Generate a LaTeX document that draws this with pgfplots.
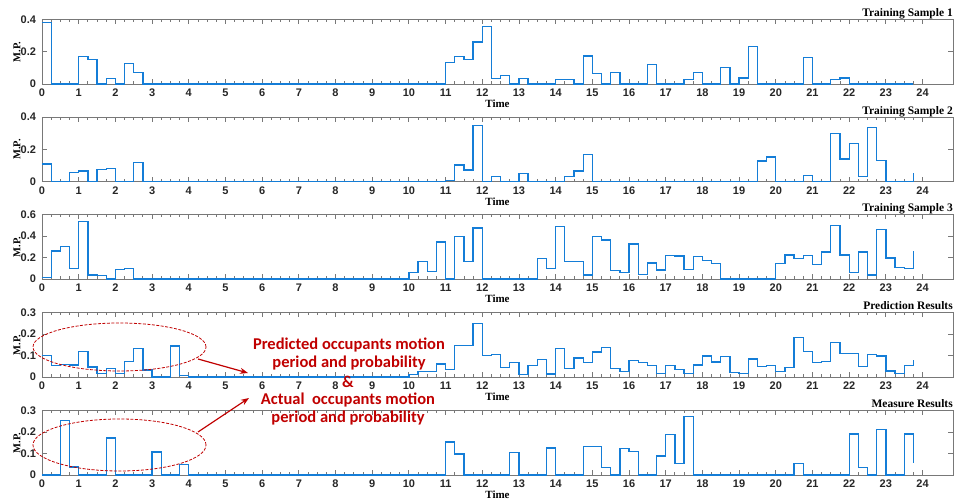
\documentclass[border=0pt]{standalone}
\usepackage{pgfplots}
\pgfplotsset{compat=1.18}
\usepackage{pgfplotstable}
\usetikzlibrary{arrows.meta}
\usepackage{fontspec}
\setmainfont{Liberation Serif}
\setsansfont{Liberation Sans}
\newfontfamily\annofont{Carlito}
\newfontfamily\tickfont{Liberation Sans}
\definecolor{mblue}{RGB}{20,125,215}
\definecolor{dred}{RGB}{192,0,0}
\definecolor{axgray}{RGB}{120,120,120}

\pgfplotstableread{
x y1 y2 y3 y4 y5
0 0.38 0.11 0.016 0.10 0
0.25 0 0 0.26 0.052 0
0.5 0 0 0.30 0.059 0.252
0.75 0 0.058 0.10 0.056 0.037
1 0.17 0.066 0.534 0.117 0
1.25 0.15 0 0.038 0.047 0
1.5 0 0.075 0.031 0.017 0
1.75 0.035 0.083 0 0.04 0.172
2 0 0 0.09 0.016 0
2.25 0.125 0 0.095 0.073 0
2.5 0.07 0.118 0 0.131 0
2.75 0 0 0 0.033 0
3 0 0 0 0 0.107
3.25 0 0 0 0 0
3.5 0 0 0 0.144 0
3.75 0 0 0 0.008 0.05
4 0 0 0 0 0
4.25 0 0 0 0 0
4.5 0 0 0 0 0
4.75 0 0 0 0 0
5 0 0 0 0 0
5.25 0 0 0 0 0
5.5 0 0 0 0 0
5.75 0 0 0 0 0
6 0 0 0 0 0
6.25 0 0 0 0 0
6.5 0 0 0 0 0
6.75 0 0 0 0 0
7 0 0 0 0 0
7.25 0 0 0 0 0
7.5 0 0 0 0 0
7.75 0 0 0 0 0
8 0 0 0 0 0
8.25 0 0 0 0 0
8.5 0 0 0 0 0
8.75 0 0 0 0 0
9 0 0 0 0 0
9.25 0 0 0 0 0
9.5 0 0 0 0 0
9.75 0 0 0 0 0
10 0 0 0.06 0.01 0
10.25 0 0 0.16 0.025 0
10.5 0 0 0.072 0.027 0
10.75 0 0 0.344 0.06 0
11 0.135 0.006 0 0.034 0.153
11.25 0.17 0.103 0.397 0.145 0.097
11.5 0.15 0.072 0.163 0.145 0
11.75 0.26 0.348 0.475 0.248 0
12 0.355 0 0 0.10 0
12.25 0.032 0.033 0 0.105 0
12.5 0.053 0 0 0.044 0
12.75 0 0 0 0.069 0.103
13 0.036 0.052 0 0.011 0
13.25 0 0 0 0.052 0
13.5 0 0 0.188 0.08 0
13.75 0 0 0.098 0.014 0.126
14 0.03 0 0.486 0.131 0
14.25 0.03 0.031 0.163 0.038 0
14.5 0 0.066 0.163 0.088 0
14.75 0.173 0.17 0.037 0.069 0.131
15 0.065 0 0.397 0.116 0.132
15.25 0 0 0.363 0.136 0.034
15.5 0.072 0 0.08 0.039 0
15.75 0 0 0.058 0.027 0.122
16 0 0 0.326 0.077 0.108
16.25 0 0 0.043 0.066 0
16.5 0.122 0 0.148 0.055 0
16.75 0 0 0.083 0.017 0.088
17 0 0 0.218 0.055 0.188
17.25 0 0 0.215 0.034 0.055
17.5 0.03 0 0.089 0.017 0.272
17.75 0.072 0 0.212 0.056 0
18 0 0 0.172 0.098 0
18.25 0 0 0.145 0.07 0
18.5 0.103 0 0 0.094 0
18.75 0 0 0 0.02 0
19 0.038 0 0 0.016 0
19.25 0.232 0 0 0.083 0
19.5 0 0.128 0 0.05 0
19.75 0 0.153 0 0.052 0
20 0 0 0.142 0.027 0
20.25 0 0 0.222 0.044 0
20.5 0 0 0.19 0.184 0.055
20.75 0.166 0.04 0.218 0.117 0
21 0 0 0.132 0.069 0
21.25 0 0 0.252 0.072 0
21.5 0.027 0.30 0.50 0.16 0
21.75 0.038 0.14 0.222 0.11 0
22 0 0.238 0.058 0.108 0.19
22.25 0 0.033 0.252 0.05 0.034
22.5 0 0.337 0.037 0.106 0
22.75 0 0.13 0.458 0.098 0.21
23 0 0 0.194 0.028 0
23.25 0 0 0.108 0.016 0
23.5 0 0 0.095 0.053 0.19
23.75 0 0.054 0.26 0.077 0.055
}\mpdata

\pgfplotsset{
  panel/.style={
    scale only axis, width=911pt, height=64.5pt,
    anchor=south west,
    xmin=0, xmax=24.83, ymin=0,
    xtick={0,1,...,24}, minor x tick num=3,
    xtick pos=both, ytick pos=both,
    xticklabel pos=lower, yticklabel pos=left,
    tick align=inside,
    major tick length=5pt, minor tick length=3pt,
    axis line style={draw=axgray, line width=0.8pt},
    every tick/.append style={axgray, line width=0.8pt},
    every minor tick/.append style={axgray, line width=0.8pt},
    /pgf/number format/assume math mode=true,
    xticklabel style={font=\tickfont\bfseries\fontsize{11}{12}\selectfont, text=black!85, yshift=-1.5pt},
    yticklabel style={font=\tickfont\bfseries\fontsize{11}{12}\selectfont, text=black!85, /pgf/number format/fixed, /pgf/number format/precision=1, xshift=-2.5pt},
    xlabel={Time}, ylabel={M.P.},
    every axis x label/.style={at={(axis description cs:0.5,0)}, anchor=north, inner sep=0pt, yshift=-16pt, font=\bfseries\fontsize{11}{13}\selectfont},
    every axis y label/.style={at={(axis description cs:-0.0274,0.5)}, anchor=center, rotate=90, inner sep=0pt, font=\bfseries\fontsize{10.5}{12}\selectfont},
    clip=false,
  },
  series/.style={const plot, no marks, color=mblue, line width=1.3pt},
}

\newcommand{\paneltitle}[1]{\node[anchor=base east, inner sep=0pt, font=\bfseries\fontsize{11.5}{13}\selectfont] at ([yshift=3pt]rel axis cs:1,1) {#1};}

\begin{document}
\begin{tikzpicture}
\useasboundingbox (0,0) rectangle (956pt,502pt);

\begin{axis}[panel, at={(42pt,418pt)}, ymax=0.4, ytick={0,0.2,0.4}]
\addplot[series] table[x=x, y=y1] {\mpdata};
\paneltitle{Training Sample 1}
\end{axis}

\begin{axis}[panel, at={(42pt,320.3pt)}, ymax=0.4, ytick={0,0.2,0.4}]
\addplot[series] table[x=x, y=y2] {\mpdata};
\paneltitle{Training Sample 2}
\end{axis}

\begin{axis}[panel, at={(42pt,223pt)}, ymax=0.6, ytick={0,0.2,0.4,0.6}]
\addplot[series] table[x=x, y=y3] {\mpdata};
\paneltitle{Training Sample 3}
\end{axis}

\begin{axis}[panel, at={(42pt,125pt)}, ymax=0.3, ytick={0,0.1,0.2,0.3}]
\addplot[series] table[x=x, y=y4] {\mpdata};
\paneltitle{Prediction Results}
\end{axis}

\begin{axis}[panel, at={(42pt,27pt)}, ymax=0.3, ytick={0,0.1,0.2,0.3}]
\addplot[series] table[x=x, y=y5] {\mpdata};
\paneltitle{Measure Results}
\end{axis}

% annotations
\draw[dred, line width=0.8pt, dash pattern=on 3pt off 1.5pt] (119.5pt,155pt) ellipse [x radius=86.5pt, y radius=24pt];
\draw[dred, line width=0.8pt, dash pattern=on 3pt off 1.5pt] (119.5pt,57pt) ellipse [x radius=86.5pt, y radius=26pt];
\draw[dred, line width=1.2pt, -{Stealth[length=8pt,width=6pt]}] (198pt,143pt) -- (248pt,129pt);
\draw[dred, line width=1.2pt, -{Stealth[length=8pt,width=6pt]}] (198pt,70pt) -- (249pt,104pt);
\node[dred, font=\annofont\bfseries\fontsize{16.5}{18.5}\selectfont, align=center, anchor=center] at (349pt,148pt) {Predicted occupants motion\\period and probability};
\node[dred, font=\annofont\bfseries\fontsize{16.5}{18.5}\selectfont, anchor=center] at (348pt,120pt) {\&};
\node[dred, font=\annofont\bfseries\fontsize{16.5}{18.5}\selectfont, align=center, anchor=center] at (348pt,93pt) {Actual~ occupants motion\\period and probability};
\end{tikzpicture}
\end{document}
